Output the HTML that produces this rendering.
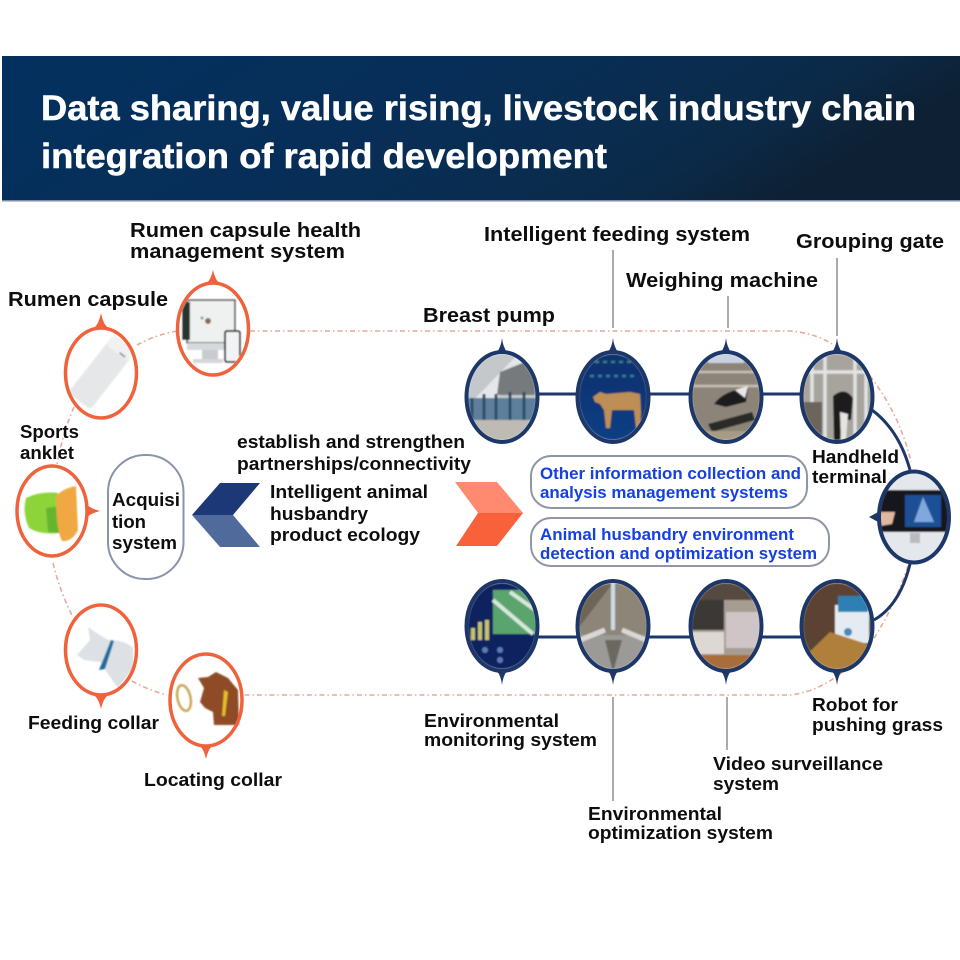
<!DOCTYPE html>
<html><head><meta charset="utf-8"><style>
html,body{margin:0;padding:0;background:#fff}
svg{display:block}
text{font-family:"Liberation Sans",sans-serif;font-weight:bold;fill:#111;font-size:20px}
</style></head><body>
<svg width="960" height="960" viewBox="0 0 960 960" xmlns="http://www.w3.org/2000/svg">
<defs>
<linearGradient id="hd" x1="0" y1="0" x2="1" y2="0.25"><stop offset="0" stop-color="#03305f"/><stop offset="0.55" stop-color="#082e56"/><stop offset="0.85" stop-color="#0b2a48"/><stop offset="1" stop-color="#0e2033"/></linearGradient>
<linearGradient id="cow" x1="0" y1="0" x2="0" y2="1"><stop offset="0" stop-color="#0c2f6c"/><stop offset="1" stop-color="#0a3f85"/></linearGradient>
<filter id="bl" x="-10%" y="-10%" width="120%" height="120%"><feGaussianBlur stdDeviation="0.7"/></filter>
<filter id="tb"><feGaussianBlur stdDeviation="0.3"/></filter>
<clipPath id="c1"><ellipse cx="502" cy="397" rx="34" ry="43"/></clipPath>
<clipPath id="c2"><ellipse cx="613" cy="397" rx="34" ry="43"/></clipPath>
<clipPath id="c3"><ellipse cx="726" cy="397" rx="34" ry="43"/></clipPath>
<clipPath id="c4"><ellipse cx="837" cy="397" rx="34" ry="43"/></clipPath>
<clipPath id="c5"><ellipse cx="502" cy="626" rx="34" ry="43"/></clipPath>
<clipPath id="c6"><ellipse cx="613" cy="626" rx="34" ry="43"/></clipPath>
<clipPath id="c7"><ellipse cx="726" cy="626" rx="34" ry="43"/></clipPath>
<clipPath id="c8"><ellipse cx="837" cy="626" rx="34" ry="43"/></clipPath>
<clipPath id="c9"><ellipse cx="914" cy="517" rx="34" ry="44"/></clipPath>
<clipPath id="o1"><ellipse cx="213" cy="329" rx="34" ry="44"/></clipPath>
</defs>
<rect width="960" height="960" fill="#fff"/>

<!-- header -->
<rect x="2" y="56" width="958" height="145" fill="url(#hd)"/>
<rect x="2" y="200" width="958" height="1.5" fill="#7d8ea6"/>
<text x="41" y="120" textLength="875" lengthAdjust="spacingAndGlyphs" stroke="#fff" stroke-width="0.5" style="font-size:35px;fill:#fff">Data sharing, value rising, livestock industry chain</text>
<text x="41" y="168" textLength="566" lengthAdjust="spacingAndGlyphs" stroke="#fff" stroke-width="0.5" style="font-size:35px;fill:#fff">integration of rapid development</text>

<!-- dotted loop -->
<g fill="none" stroke="#e9a99b" stroke-width="1.6" stroke-dasharray="5 3 1.5 3">
<path d="M250 331H790Q815 333 832 344"/>
<path d="M870 376Q900 415 911 462"/>
<path d="M908 566Q895 605 873 640Q835 690 790 695H243"/>
<path d="M137 345Q155 335 177 331"/>
<path d="M74 407Q62 435 57 465"/>
<path d="M53 563Q60 592 73 617"/>
<path d="M132 681Q148 690 167 695"/>
</g>

<!-- grey leaders -->
<g stroke="#8b8f96" stroke-width="1.5">
<line x1="613" y1="250" x2="613" y2="328"/>
<line x1="728" y1="296" x2="728" y2="328"/>
<line x1="837" y1="258" x2="837" y2="336"/>
<line x1="613" y1="697" x2="613" y2="801"/>
<line x1="727" y1="697" x2="727" y2="750"/>
</g>

<!-- navy connectors -->
<g fill="none" stroke="#1c3768" stroke-width="3">
<path d="M538 394H577M649 394H690M762 394H801"/>
<path d="M538 637H577M649 637H690M762 637H801"/>
<path d="M872 410Q899 430 910 470"/>
<path d="M910 564Q900 605 874 620"/>
</g>

<!-- pointers navy -->
<g fill="#1c3768">
<path d="M497 352Q501 347 502 338Q503 347 507 352Z"/><path d="M608 352Q612 347 613 338Q614 347 618 352Z"/>
<path d="M721 352Q725 347 726 338Q727 347 731 352Z"/><path d="M832 352Q836 347 837 338Q838 347 842 352Z"/>
<path d="M497 671Q501 676 502 685Q503 676 507 671Z"/><path d="M608 671Q612 676 613 685Q614 676 618 671Z"/>
<path d="M721 671Q725 676 726 685Q727 676 731 671Z"/><path d="M832 671Q836 676 837 685Q838 676 842 671Z"/>
<path d="M880 511L869 517L880 523Z"/>
</g>

<!-- photos -->
<g filter="url(#bl)">
<g clip-path="url(#c1)"><rect x="466" y="350" width="72" height="94" fill="#c4c8cb"/><path d="M466 408L522 350H538V362L466 425Z" fill="#e4e7ea"/><path d="M500 372L535 358V395H497Z" fill="#777a7c"/><rect x="466" y="398" width="72" height="22" fill="#5d7f9c"/><path d="M472 398V420M484 394V420M496 394V420M510 392V420M524 392V420" stroke="#2f4e68" stroke-width="3"/><rect x="466" y="420" width="72" height="24" fill="#bdbbb4"/></g>
<g clip-path="url(#c2)"><rect x="577" y="350" width="72" height="94" fill="url(#cow)"/>
<path d="M593 397L600 392L606 394L630 392L640 394L641 412L640 428H636L634 410L612 410L610 428H606L604 410L600 404L595 402Z" fill="#bd8f56"/>
<path d="M595 362H632M590 376H638" stroke="#357c8e" stroke-width="2.5" stroke-dasharray="4 4"/></g>
<g clip-path="url(#c3)"><rect x="690" y="350" width="72" height="94" fill="#8c8478"/><rect x="708" y="350" width="36" height="13" fill="#c9d2e0"/><path d="M690 372H762M690 386H762" stroke="#c5bfb3" stroke-width="2.5"/><path d="M714 404Q724 390 748 388L746 402L726 407Z" fill="#1b1a1a"/><path d="M735 390L748 386L745 398Z" fill="#e8e8e8"/><path d="M708 424L752 412L755 420L712 432Z" fill="#2a2a26"/><rect x="690" y="431" width="72" height="13" fill="#a79b85"/></g>
<g clip-path="url(#c4)"><rect x="801" y="350" width="72" height="94" fill="#a7a49d"/><path d="M812 350V444M825 350V444M855 350V444M866 350V444M801 372H873" stroke="#e0e2e3" stroke-width="3.5"/><path d="M833 396Q845 386 853 398L851 420H842L840 442H834Z" fill="#1e1c1b"/><path d="M840 412L848 414L846 440L841 440Z" fill="#e6e4df"/><path d="M801 402H822V444H801Z" fill="#6c655b"/></g>
<g clip-path="url(#c5)"><rect x="466" y="580" width="72" height="94" fill="#07215e"/><path d="M493 590H538V634H493Z" fill="#5aa46e"/><path d="M493 600L533 634M510 592L538 612" stroke="#d8e8dc" stroke-width="4"/><path d="M473 628V640M480 622V640M487 620V640" stroke="#c4c46e" stroke-width="4"/><circle cx="485" cy="650" r="3" fill="#5a7db0"/><circle cx="500" cy="650" r="3" fill="#5a7db0"/><circle cx="500" cy="660" r="3" fill="#5a7db0"/></g>
<g clip-path="url(#c6)"><rect x="577" y="580" width="72" height="94" fill="#8d8577"/><path d="M613 583L577 630V590Z" fill="#6c6558"/><rect x="611" y="580" width="4" height="50" fill="#cfdbe3"/><rect x="577" y="635" width="72" height="39" fill="#9b9a97"/><path d="M580 640L605 630M646 640L622 630" stroke="#d8d8d6" stroke-width="5"/><path d="M605 640L613 672L622 640Z" fill="#6a685f"/></g>
<g clip-path="url(#c7)"><rect x="690" y="580" width="72" height="94" fill="#a69c92"/><rect x="690" y="580" width="72" height="20" fill="#54483f"/><rect x="692" y="600" width="32" height="30" fill="#3a3936"/><rect x="726" y="612" width="36" height="36" fill="#cfc5c6"/><rect x="692" y="632" width="32" height="22" fill="#ddd8d4"/><rect x="690" y="655" width="72" height="19" fill="#a86d3a"/></g>
<g clip-path="url(#c8)"><rect x="801" y="580" width="72" height="94" fill="#5b4330"/><rect x="835" y="605" width="34" height="38" fill="#e4ecf2"/><rect x="838" y="596" width="30" height="16" fill="#2f7fb3"/><path d="M801 660L830 632L873 646V674H801Z" fill="#b07f3a"/><circle cx="848" cy="632" r="4" fill="#4c89b8"/></g>
<g clip-path="url(#c9)"><rect x="880" y="473" width="68" height="88" fill="#e4e8ec"/><rect x="880" y="490" width="68" height="42" fill="#16181d"/><rect x="905" y="495" width="36" height="32" fill="#1e4f95"/><path d="M923 497L914 522H934Z" fill="#7fa8de"/><path d="M880 512L895 512L892 524L880 526Z" fill="#e0b8a0"/><rect x="910" y="533" width="10" height="10" fill="#bbb"/></g>

<!-- system screen -->
<g clip-path="url(#o1)"><rect x="179" y="285" width="68" height="88" fill="#fff"/><rect x="187" y="300" width="48" height="43" fill="#eef1f0" stroke="#333" stroke-width="1.5"/><rect x="182" y="302" width="8" height="38" fill="#27342f"/><rect x="187" y="343" width="48" height="7" fill="#d6d9dc"/><rect x="202" y="350" width="16" height="10" fill="#c8ccd0"/><rect x="193" y="359" width="30" height="4" fill="#d4d6d8"/><rect x="225" y="331" width="15" height="31" rx="2" fill="#f1f3f4" stroke="#2c2c2c" stroke-width="2"/><circle cx="208" cy="321" r="3" fill="#8a6a60"/><circle cx="202" cy="318" r="1.5" fill="#5aa"/></g>
<!-- capsule -->
<g transform="rotate(38 102 372)"><rect x="88" y="335" width="28" height="74" rx="4" fill="#e6e7e9"/><rect x="88" y="335" width="28" height="13" rx="4" fill="#f1f1f2"/><rect x="104" y="345" width="7" height="2" fill="#9a9a9a"/></g>
<!-- anklet -->
<path d="M26 498Q40 491 58 493V533Q40 535 29 528Q22 513 26 498Z" fill="#8dd43a"/><path d="M46 508L60 506V533L48 532Z" fill="#66b52f"/>
<path d="M56 496Q64 488 76 486L78 530Q72 542 62 541Q56 530 56 496Z" fill="#f0a843"/>
<!-- feeding collar cow -->
<path d="M77 655L90 640L88 627L98 634L108 640Q125 640 133 648L133 668L118 688Q105 670 100 662L84 660Z" fill="#dde1e5"/>
<path d="M111 640L114 641L105 669L99 670Z" fill="#1f6da0"/>
<!-- locating collar -->
<ellipse cx="184" cy="698" rx="6.5" ry="13" fill="none" stroke="#c9a957" stroke-width="2.5" transform="rotate(-12 184 698)"/>
<path d="M198 678L208 677L216 672L228 678L238 690L239 725L214 725L213 712L205 708L200 702L204 688Z" fill="#8f4b28"/>
<path d="M224 690L228 692L225 716L222 716Z" fill="#e3bd2a"/>
</g>

<!-- ellipses -->
<g fill="none" stroke="#1c3768" stroke-width="4">
<ellipse cx="502" cy="397" rx="35.5" ry="45"/><ellipse cx="613" cy="397" rx="35.5" ry="45"/><ellipse cx="726" cy="397" rx="35.5" ry="45"/><ellipse cx="837" cy="397" rx="35.5" ry="45"/>
<ellipse cx="502" cy="626" rx="35.5" ry="45"/><ellipse cx="613" cy="626" rx="35.5" ry="45"/><ellipse cx="726" cy="626" rx="35.5" ry="45"/><ellipse cx="837" cy="626" rx="35.5" ry="45"/>
<ellipse cx="914" cy="517" rx="35" ry="45.5"/>
</g>
<g fill="none" stroke="#f0623c" stroke-width="3.5">
<ellipse cx="101" cy="373" rx="35.5" ry="45"/><ellipse cx="213" cy="329" rx="35.5" ry="46"/><ellipse cx="52" cy="511" rx="35" ry="45"/><ellipse cx="101" cy="650" rx="35.5" ry="45"/><ellipse cx="206" cy="700" rx="36" ry="46"/>
</g>
<g fill="#f0623c">
<path d="M95 327Q99 323 101 313Q103 323 107 327Z"/><path d="M207 283Q211 279 213 270Q215 279 219 283Z"/>
<path d="M95 696Q99 700 101 709Q103 700 107 696Z"/><path d="M200 746Q204 750 206 759Q208 750 212 746Z"/>
<path d="M87 505Q92 509 100 511Q92 513 87 517Z"/>
</g>

<!-- box, chevrons, pills -->
<rect x="108" y="455" width="75.5" height="124" rx="37" fill="#fff" stroke="#8a93ad" stroke-width="2"/>
<path d="M192 515L220 483H260L233 515Z" fill="#1d3877"/><path d="M192 515H233L260 547H220Z" fill="#516a9c"/>
<path d="M455 482H497L523 513H478Z" fill="#ff8a70"/><path d="M478 513H523L497 546H456Z" fill="#f9613a"/>
<rect x="531" y="456" width="276" height="52" rx="20" fill="#fff" stroke="#8f96a6" stroke-width="2"/>
<rect x="531" y="518" width="298" height="48" rx="20" fill="#fff" stroke="#8f96a6" stroke-width="2"/>

<!-- labels -->
<g filter="url(#tb)">
<text x="130" y="237" textLength="231" lengthAdjust="spacingAndGlyphs">Rumen capsule health</text>
<text x="130" y="258" textLength="215" lengthAdjust="spacingAndGlyphs">management system</text>
<text x="8" y="306" textLength="160" lengthAdjust="spacingAndGlyphs">Rumen capsule</text>
<text x="20" y="438" textLength="59" lengthAdjust="spacingAndGlyphs" style="font-size:18px">Sports</text>
<text x="20" y="459" textLength="54" lengthAdjust="spacingAndGlyphs" style="font-size:18px">anklet</text>
<text x="112" y="506" textLength="68" lengthAdjust="spacingAndGlyphs" style="font-size:18px">Acquisi</text>
<text x="112" y="528" textLength="34" lengthAdjust="spacingAndGlyphs" style="font-size:18px">tion</text>
<text x="112" y="549" textLength="65" lengthAdjust="spacingAndGlyphs" style="font-size:18px">system</text>
<text x="237" y="448" textLength="228" lengthAdjust="spacingAndGlyphs" style="font-size:18px">establish and strengthen</text>
<text x="237" y="470" textLength="234" lengthAdjust="spacingAndGlyphs" style="font-size:18px">partnerships/connectivity</text>
<text x="270" y="498" textLength="158" lengthAdjust="spacingAndGlyphs" style="font-size:18px">Intelligent animal</text>
<text x="270" y="520" textLength="98" lengthAdjust="spacingAndGlyphs" style="font-size:18px">husbandry</text>
<text x="270" y="541" textLength="150" lengthAdjust="spacingAndGlyphs" style="font-size:18px">product ecology</text>
<text x="484" y="241" textLength="266" lengthAdjust="spacingAndGlyphs">Intelligent feeding system</text>
<text x="796" y="248" textLength="148" lengthAdjust="spacingAndGlyphs">Grouping gate</text>
<text x="626" y="287" textLength="192" lengthAdjust="spacingAndGlyphs">Weighing machine</text>
<text x="423" y="322" textLength="132" lengthAdjust="spacingAndGlyphs">Breast pump</text>
<text x="812" y="463" textLength="87" lengthAdjust="spacingAndGlyphs" style="font-size:18px">Handheld</text>
<text x="812" y="483" textLength="75" lengthAdjust="spacingAndGlyphs" style="font-size:18px">terminal</text>
<text x="540" y="479" textLength="261" lengthAdjust="spacingAndGlyphs" style="fill:#1240e0;font-size:17px">Other information collection and</text>
<text x="540" y="498" textLength="248" lengthAdjust="spacingAndGlyphs" style="fill:#1240e0;font-size:17px">analysis management systems</text>
<text x="540" y="540" textLength="254" lengthAdjust="spacingAndGlyphs" style="fill:#1240e0;font-size:17px">Animal husbandry environment</text>
<text x="540" y="559" textLength="277" lengthAdjust="spacingAndGlyphs" style="fill:#1240e0;font-size:17px">detection and optimization system</text>
<text x="424" y="727" textLength="135" lengthAdjust="spacingAndGlyphs" style="font-size:18px">Environmental</text>
<text x="424" y="746" textLength="173" lengthAdjust="spacingAndGlyphs" style="font-size:18px">monitoring system</text>
<text x="812" y="711" textLength="86" lengthAdjust="spacingAndGlyphs" style="font-size:18px">Robot for</text>
<text x="812" y="731" textLength="131" lengthAdjust="spacingAndGlyphs" style="font-size:18px">pushing grass</text>
<text x="713" y="770" textLength="170" lengthAdjust="spacingAndGlyphs" style="font-size:18px">Video surveillance</text>
<text x="713" y="790" textLength="66" lengthAdjust="spacingAndGlyphs" style="font-size:18px">system</text>
<text x="588" y="820" textLength="134" lengthAdjust="spacingAndGlyphs" style="font-size:18px">Environmental</text>
<text x="588" y="839" textLength="185" lengthAdjust="spacingAndGlyphs" style="font-size:18px">optimization system</text>
<text x="28" y="729" textLength="131" lengthAdjust="spacingAndGlyphs" style="font-size:18px">Feeding collar</text>
<text x="144" y="786" textLength="138" lengthAdjust="spacingAndGlyphs" style="font-size:18px">Locating collar</text>
</g>
</svg>
</body></html>
